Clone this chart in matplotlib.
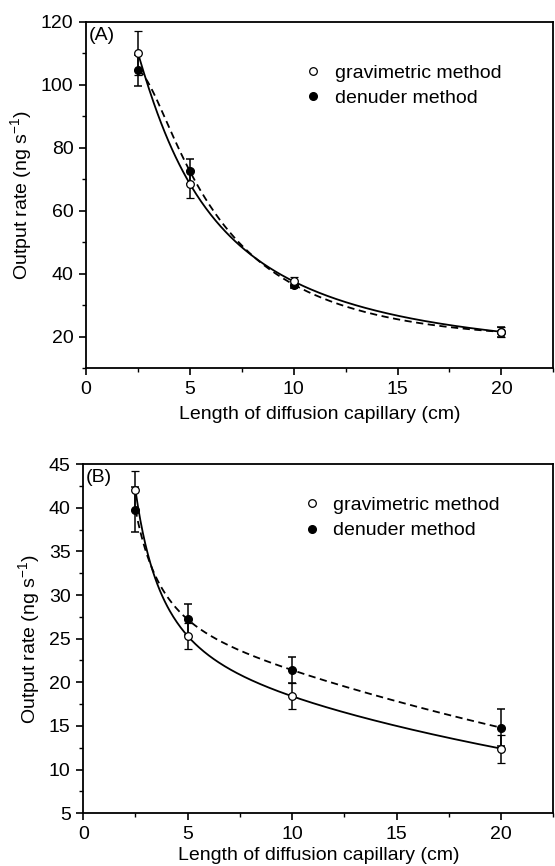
import numpy as np
import matplotlib
matplotlib.use("Agg")
import matplotlib.pyplot as plt
from matplotlib.ticker import MultipleLocator

plt.rcParams['font.family'] = ['Liberation Sans', 'DejaVu Sans']

# capillary lengths (cm)
length = [2.5, 5, 10, 20]

# panel A values (ng s-1)
grav_a = [110.0, 68.5, 37.5, 21.5]
grav_a_err = [7.0, 4.5, 1.5, 1.5]
den_a = [104.5, 72.5, 36.5, 21.5]
den_a_err = [5.0, 4.0, 1.0, 1.5]

# panel B values (ng s-1)
grav_b = [42.0, 25.3, 18.4, 12.4]
grav_b_err = [2.2, 1.5, 1.5, 1.6]
den_b = [39.8, 27.2, 21.4, 14.8]
den_b_err = [2.6, 1.8, 1.5, 2.1]


#smooth curve through points: cubic in log-log space
def fit_curve(x, y):
    lx = np.log(np.asarray(x, float))
    ly = np.log(np.asarray(y, float))
    p = np.polyfit(lx, ly, len(lx) - 1)
    xs = np.linspace(min(x), max(x), 300)
    return xs, np.exp(np.polyval(p, np.log(xs)))


def panel(ax, grav, grav_err, den, den_err, ylim, ymaj, ymin, tag, legy, xpad):
    xs, ys = fit_curve(length, grav)
    ax.plot(xs, ys, '-', color='black', lw=1.3)
    xs, ys = fit_curve(length, den)
    ax.plot(xs, ys, '--', color='black', lw=1.3, dashes=(4, 2.5))
    ax.errorbar(length, den, yerr=den_err, fmt='o', color='black', mfc='black',
                ms=5.5, capsize=3, elinewidth=1.1, capthick=1.1, label='denuder method', zorder=3)
    ax.errorbar(length, grav, yerr=grav_err, fmt='o', color='black', mfc='white',
                ms=5.5, capsize=3, elinewidth=1.1, capthick=1.1, mew=0.9,
                label='gravimetric method', zorder=4)
    ax.set_xlim(0, 22.5)
    ax.set_ylim(*ylim)
    ax.xaxis.set_major_locator(MultipleLocator(5))
    ax.xaxis.set_minor_locator(MultipleLocator(2.5))
    ax.yaxis.set_major_locator(MultipleLocator(ymaj))
    ax.yaxis.set_minor_locator(MultipleLocator(ymin))
    ax.tick_params(which='both', direction='out', top=False, right=False, labelsize=14)
    ax.tick_params(which='major', length=5, width=1.2, pad=4)
    ax.tick_params(which='minor', length=3, width=1)
    for s in ax.spines.values():
        s.set_linewidth(1.3)
    ax.set_xlabel('Length of diffusion capillary (cm)', fontsize=14, labelpad=xpad)
    ax.set_ylabel('Output rate (ng s$^{\\mathregular{-1}}$)', fontsize=14, labelpad=4)
    ax.text(0.005, 0.985, tag, transform=ax.transAxes, fontsize=14, va='top', ha='left')
    h, l = ax.get_legend_handles_labels()
    h = [x[0] for x in h[::-1]]
    ax.legend(h, l[::-1], loc='upper left', bbox_to_anchor=(0.445, legy), frameon=False,
              fontsize=14, handletextpad=0.5, handlelength=1.2, labelspacing=0.4,
              borderaxespad=0)


fig = plt.figure(figsize=(5.55, 8.66), dpi=100)
ax1 = fig.add_axes([0.155, 0.575, 0.842, 0.40])
ax2 = fig.add_axes([0.150, 0.061, 0.847, 0.403])

panel(ax1, grav_a, grav_a_err, den_a, den_a_err, (10, 120), 20, 10, '(A)', 0.90, 6)
panel(ax2, grav_b, grav_b_err, den_b, den_b_err, (5, 45), 5, 2.5, '(B)', 0.93, 3)

fig.savefig('out.png', dpi=100)
